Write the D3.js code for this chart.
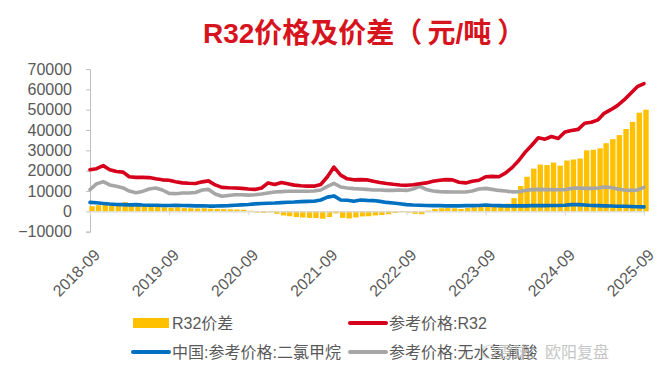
<!DOCTYPE html>
<html>
<head>
<meta charset="utf-8">
<script src="https://cdn.jsdelivr.net/npm/d3@7"></script>
<style>
  html, body { margin: 0; padding: 0; background: #fff; }
  svg { display: block; }
  text { font-family: "Liberation Sans", Arial, "Noto Sans CJK SC", sans-serif; }
</style>
</head>
<body>
<svg id="chart" width="659" height="372"></svg>
<script>
// ---- data (monthly, 2018-09 .. 2025-09) ----
const startMonth = "2018-09";
const r32Price = [
  20500,21000,22500,20500,19600,19300,17000,16700,16700,16600,
  16000,15500,15300,14600,14000,13800,13700,14500,15000,13000,
  11800,11600,11500,11300,11000,10800,11500,14000,13200,14200,
  13600,12900,12600,12400,12400,13200,17000,21800,17800,16000,
  15500,15600,15500,14800,14200,13700,13300,13000,12800,13100,
  13600,14000,14800,15300,15600,15500,14300,14000,14800,15300,
  17000,17200,17000,18800,21500,25000,29000,32500,36200,35500,
  36800,35800,39000,39800,40300,43300,43800,45000,48200,50000,
  52000,54800,58000,61300,62800
];
const hfPrice = [
  10700,13500,14600,13000,12300,11500,10000,9200,9800,11000,
  11500,10500,8800,8700,9000,9000,9300,10500,10800,8500,
  7400,7800,8200,8200,8000,8200,8500,9000,9500,9700,
  9900,9900,9900,9900,10000,10500,12300,13800,12000,11500,
  11200,11000,10800,10500,10500,10300,10300,10500,10300,11000,
  12300,10800,10000,9700,9600,9500,9500,9500,10000,11000,
  11300,10800,10300,10000,9600,9700,10300,10700,10800,10700,
  10700,10600,10600,11300,11500,11300,11300,11500,12000,11700,
  11000,10500,10300,10500,11800
];
const dcmPrice = [
  4400,4200,3900,3600,3400,3300,3200,3300,3100,3000,
  3000,2900,2900,3000,2900,2800,2700,2700,2600,2600,
  2700,2800,3000,3200,3400,3700,3900,4000,4100,4300,
  4500,4600,4800,4900,5000,5600,7000,7600,5600,5500,
  5000,5600,5400,5300,4900,4400,4100,3700,3300,3100,
  3000,2900,2800,2800,2700,2700,2700,2800,2800,2900,
  3100,2900,2800,2700,2700,2700,2700,2800,2800,2800,
  2900,2900,3000,3300,3300,3100,2900,2800,2700,2600,
  2500,2500,2400,2300,2200
];
const r32Spread = [
  2500,3000,3500,3000,3800,4500,3200,3000,2800,2500,
  2300,2000,1800,2000,1600,1500,1400,1500,1300,1200,
  1100,1000,900,800,300,-600,-800,-500,-1200,-2000,
  -2400,-2800,-3000,-3200,-3300,-3600,-2800,-1000,-3200,-3500,
  -3000,-2500,-2400,-2000,-1800,-1400,-800,-400,-600,-1200,
  -1400,400,1200,1500,1600,1500,1200,1600,2000,2300,
  2600,3000,3000,3800,6500,12500,17000,21000,23000,22800,
  24000,22500,25000,25500,26000,30000,30300,31000,33500,35500,
  37500,40500,44000,48500,50000
];
const yTicks = [-10000,0,10000,20000,30000,40000,50000,60000,70000];
const xTickLabels = ["2018-09","2019-09","2020-09","2021-09","2022-09","2023-09","2024-09","2025-09"];
const seriesNames = ["R32价差","参考价格:R32","中国:参考价格:二氯甲烷","参考价格:无水氢氟酸"];
const titleParts = ["R32价格及价差（", "元/吨", "）"];

// ---- build ----
const parse = d3.timeParse("%Y-%m");
const t0 = parse(startMonth);
const dates = r32Price.map((_, i) => d3.timeMonth.offset(t0, i));
const svg = d3.select("#chart");

const x = d3.scaleTime().domain([dates[0], dates[dates.length - 1]]).range([90, 644]);
const y = d3.scaleLinear().domain([-10000, 70000]).range([231.7, 69]);

const colors = { spread: "#FFC000", r32: "#D6001C", dcm: "#0070C0", hf: "#A6A6A6" };
const textColor = "#595959";

// title
const title = svg.append("text")
  .attr("x", 203).attr("y", 43)
  .attr("font-size", 28).attr("font-weight", "bold")
  .attr("fill", "#D7141E");
title.append("tspan").text(titleParts[0]);
title.append("tspan").attr("dx", 5).text(titleParts[1]);
title.append("tspan").attr("dx", 6).text(titleParts[2]);

// y axis
const yAxis = d3.axisLeft(y).tickValues(yTicks).tickSize(4).tickPadding(14).tickFormat(d3.format("d"));
const gy = svg.append("g").attr("transform", "translate(90,0)").call(yAxis);
gy.select(".domain").attr("stroke", "#BFBFBF");
gy.selectAll(".tick line").attr("stroke", "#BFBFBF");
gy.selectAll(".tick text").attr("fill", textColor).attr("font-size", 16)
  .attr("font-family", "'Liberation Sans', Arial, sans-serif");

// bars
const barW = 5.4;
svg.append("g").selectAll("rect").data(r32Spread).join("rect")
  .attr("x", (d, i) => x(dates[i]) - barW / 2 + 2)
  .attr("width", barW)
  .attr("y", d => y(Math.max(0, d)))
  .attr("height", d => Math.abs(y(d) - y(0)))
  .attr("fill", colors.spread);

// x axis at zero
const yearTicks = xTickLabels.map(s => parse(s));
const xAxis = d3.axisBottom(x).tickValues(yearTicks).tickSize(4).tickFormat("");
const gx = svg.append("g").attr("transform", `translate(0,${y(0)})`).call(xAxis);
gx.select(".domain").attr("stroke", "#D9D9D9").attr("stroke-width", 1.2);
gx.selectAll(".tick line").attr("stroke", "#D9D9D9");

// x labels at bottom
svg.append("g").selectAll("text").data(xTickLabels).join("text")
  .attr("transform", d => `translate(${x(parse(d)) + 11},256) rotate(-45)`)
  .attr("text-anchor", "end")
  .attr("font-size", 16)
  .attr("fill", textColor)
  .text(d => d);

// lines
const line = arr => d3.line().x((d, i) => x(dates[i])).y(d => y(d))(arr);
[[hfPrice, colors.hf], [dcmPrice, colors.dcm], [r32Price, colors.r32]].forEach(([arr, c]) => {
  svg.append("path").attr("d", line(arr))
    .attr("fill", "none").attr("stroke", c).attr("stroke-width", 3.6)
    .attr("stroke-linejoin", "round").attr("stroke-linecap", "round");
});

// legend
const legend = [
  { name: seriesNames[0], type: "rect", color: colors.spread, x: 133, y: 323 },
  { name: seriesNames[1], type: "line", color: colors.r32, x: 350, y: 323 },
  { name: seriesNames[2], type: "line", color: colors.dcm, x: 133, y: 352 },
  { name: seriesNames[3], type: "line", color: colors.hf, x: 350, y: 352 }
];
const lg = svg.append("g");
legend.forEach(l => {
  if (l.type === "rect") {
    lg.append("rect").attr("x", l.x).attr("y", l.y - 5).attr("width", 36).attr("height", 10).attr("fill", l.color);
  } else {
    lg.append("line").attr("x1", l.x).attr("x2", l.x + 36).attr("y1", l.y).attr("y2", l.y)
      .attr("stroke", l.color).attr("stroke-width", 4).attr("stroke-linecap", "round");
  }
  lg.append("text").attr("x", l.x + 39).attr("y", l.y).attr("dy", "0.36em")
    .attr("font-size", 16).attr("fill", textColor).text(l.name);
});

// watermark (overlaps the last legend entry, as in the source image)
svg.append("circle").attr("cx", 489).attr("cy", 352).attr("r", 6.5)
  .attr("fill", "none").attr("stroke", "#C8C8C8").attr("stroke-width", 1.2).attr("opacity", 0.8);
svg.append("text").attr("x", 497).attr("y", 352).attr("dy", "0.36em")
  .attr("font-size", 16).attr("fill", "#BDBDBD").attr("opacity", 0.85)
  .text("雪球：欧阳复盘");
</script>
</body>
</html>
